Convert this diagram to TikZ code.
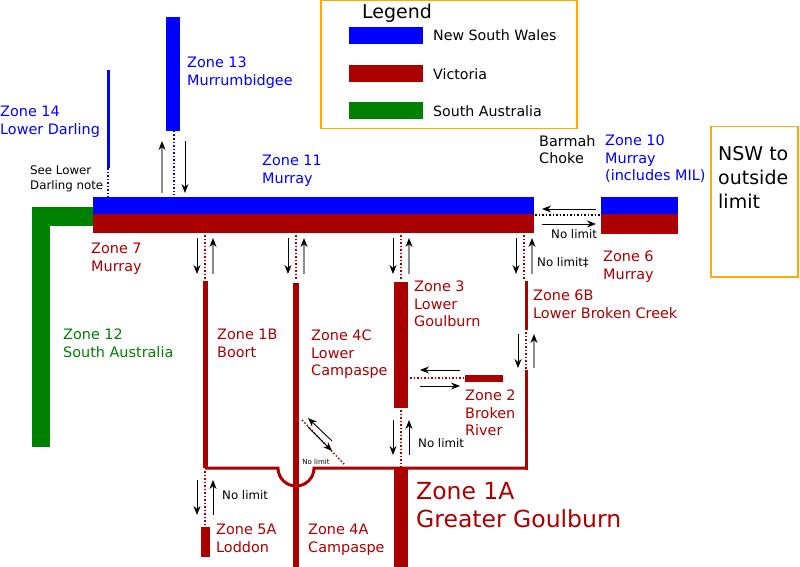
\documentclass[tikz,border=0pt]{standalone}
\usepackage{fontspec}
\setmainfont{DejaVu Sans}
\usetikzlibrary{arrows.meta}
\definecolor{nsw}{RGB}{0,0,255}
\definecolor{vic}{RGB}{170,0,0}
\definecolor{sa}{RGB}{0,128,0}
\definecolor{leg}{RGB}{255,170,0}
\begin{document}
\begin{tikzpicture}[x=1pt,y=-1pt,
 lbl/.style={font=\fontsize{14.4}{17.5}\selectfont,align=left,anchor=north west,inner sep=0},
 sm/.style={font=\fontsize{11.8}{15}\selectfont,align=left,anchor=north west,inner sep=0},
 dn/.style={-{Stealth[length=9pt,width=7pt]},black,line width=0.9pt},
 up/.style={-{Stealth[length=9pt,width=7pt,color=black]},black!45,line width=1.2pt},
 upk/.style={-{Stealth[length=9pt,width=7pt]},black,line width=0.9pt},
 vd/.style={vic,dotted,line width=1.5pt},
 bd/.style={nsw,dotted,line width=1.5pt}]
\useasboundingbox (0,0) rectangle (800,567);
% legend
\node[draw=leg,line width=1.5pt,minimum width=256pt,minimum height=128pt,anchor=north west,inner sep=0] (legend) at (320,0) {};
\node[inner sep=0,font=\fontsize{19}{21}\selectfont] (legt) at (397,13) {Legend};
\fill[nsw] (349,27) rectangle (423,44); \node[anchor=west,inner sep=0,font=\fontsize{14.2}{16}\selectfont] (l1) at (433,35) {New South Wales};
\fill[vic] (349,65) rectangle (423,82); \node[anchor=west,inner sep=0,font=\fontsize{14.2}{16}\selectfont] (l2) at (433,74) {Victoria};
\fill[sa] (349,102) rectangle (423,119); \node[anchor=west,inner sep=0,font=\fontsize{14.2}{16}\selectfont] (l3) at (433,111) {South Australia};
\node[draw=leg,line width=1.5pt,minimum width=87pt,minimum height=150pt,anchor=north west,inner sep=0] (nswbox) at (710,126) {};
\node[lbl,font=\fontsize{19}{24}\selectfont] (nswt) at (718,146) {NSW to\\outside\\limit};
% bars
\fill[nsw] (93,197) rectangle (534,214);
\fill[vic] (93,214) rectangle (534,233);
\fill[nsw] (601,197) rectangle (678,214);
\fill[vic] (601,214) rectangle (678,234);
\fill[sa] (32,207) rectangle (93,226);
\fill[sa] (32,207) rectangle (50,447);
\fill[nsw] (166,17) rectangle (180,131);
\draw[nsw,line width=3pt] (108,70) -- (108,168);
\draw[bd] (108,168) -- (108,197);
\draw[bd] (174,131) -- (174,195);
\coordinate (a1) at (162,193); \coordinate (a2) at (162,141);
\draw[up] (a1) -- (a2);
\coordinate (b1) at (185,141); \coordinate (b2) at (185,193);
\draw[dn] (b1) -- (b2);
% Victorian rivers
\draw[vic,line width=5pt] (205,281) -- (205,468);
\draw[vic,line width=6pt] (296,283) -- (296,567);
\fill[vic] (394,282) rectangle (408,408);
\fill[vic] (394,468) rectangle (408,567);
\draw[vic,line width=3pt] (526,281) -- (526,330);
\draw[vic,line width=3pt] (526,370) -- (526,469.5);
\fill[vic] (201,527) rectangle (210,557);
\fill[vic] (465,375) rectangle (503,382);
\draw[vic,line width=3pt] (205,468) -- (278,468) arc[start angle=180,end angle=0,radius=18] -- (526,468);
% dotted connectors with arrows
\foreach \x in {205,296,401,524}{
 \draw[vd] (\x,235) -- (\x,280);
 \draw[dn] (\x-8,238) -- (\x-8,274);
 \draw[up] (\x+8,274) -- (\x+8,238);
}
\draw[vd] (526,332) -- (526,369);
\draw[dn] (518,334) -- (518,368);
\draw[up] (534,368) -- (534,334);
\draw[vd] (401,410) -- (401,467);
\draw[dn] (393,420) -- (393,455);
\draw[upk] (409,455) -- (409,420);
\draw[vd] (205,471) -- (205,526);
\draw[dn] (197,480) -- (197,515);
\draw[upk] (213,515) -- (213,480);
\draw[vd] (410,378) -- (463,378);
\draw[upk] (460,370) -- (420,370);
\draw[dn] (420,386) -- (460,386);
\draw[vd] (302,420) -- (345,465);
\draw[upk] (332,441) -- (308,418);
\draw[dn] (308,427) -- (332,451);
\draw[black,dotted,line width=1.5pt] (535,215) -- (600,215);
\draw[upk] (596,209) -- (542,209);
\draw[dn] (542,224) -- (596,224);
% labels
\node[lbl,nsw] (z13) at (187,57) {Zone 13\\Murrumbidgee};
\node[lbl,nsw] (z14) at (0,106) {Zone 14\\Lower Darling};
\node[sm] (ldn) at (30,166) {See Lower\\Darling note};
\node[lbl,nsw] (z11) at (262,155) {Zone 11\\Murray};
\node[lbl] (bc) at (539,135) {Barmah\\Choke};
\node[lbl,nsw] (z10) at (605,135) {Zone 10\\Murray\\(includes MIL)};
\node[sm] (nl1) at (551,229) {No limit};
\node[lbl,vic] (z7) at (91,243) {Zone 7\\Murray};
\node[lbl,vic] (z6) at (603,251) {Zone 6\\Murray};
\node[sm] (nl2) at (537,257) {No limit‡};
\node[lbl,vic] (z6b) at (533,290) {Zone 6B\\Lower Broken Creek};
\node[lbl,vic] (z3) at (414,281) {Zone 3\\Lower\\Goulburn};
\node[lbl,vic] (z1b) at (217,329) {Zone 1B\\Boort};
\node[lbl,vic] (z4c) at (311,330) {Zone 4C\\Lower\\Campaspe};
\node[lbl,sa] (z12) at (63,329) {Zone 12\\South Australia};
\node[lbl,vic] (z2) at (465,390) {Zone 2\\Broken\\River};
\node[sm] (nl3) at (418,438) {No limit};
\node[font=\fontsize{7}{8}\selectfont,inner sep=0] (nl4) at (316,462) {No limit};
\node[sm] (nl5) at (222,490) {No limit};
\node[lbl,vic,font=\fontsize{23.5}{28}\selectfont] (z1a) at (416,482) {Zone 1A\\Greater Goulburn};
\node[lbl,vic] (z5a) at (216,524) {Zone 5A\\Loddon};
\node[lbl,vic] (z4a) at (308,524) {Zone 4A\\Campaspe};
\end{tikzpicture}
\end{document}
